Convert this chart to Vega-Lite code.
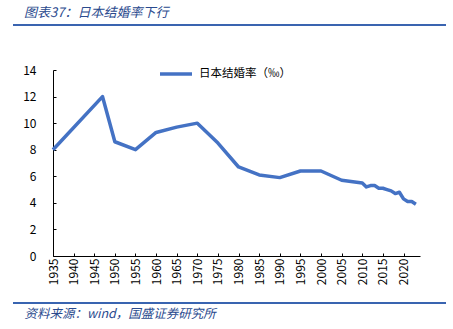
{
  "$schema": "https://vega.github.io/schema/vega-lite/v6.json",
  "autosize": {"type": "none"},
  "padding": {"left": 53, "top": 70, "right": 33, "bottom": 73},
  "width": 367,
  "height": 186,
  "background": "white",
  "config": {
    "font": "Noto Sans CJK SC",
    "view": {"stroke": null},
    "axis": {"labelOverlap": false, "labelFlush": false, "grid": false}
  },
  "title": {
    "text": "图表37：日本结婚率下行",
    "anchor": "start",
    "frame": "group",
    "dx": -29,
    "offset": 4,
    "font": "Noto Sans CJK SC",
    "fontSize": 13,
    "fontStyle": "italic",
    "fontWeight": "normal",
    "color": "#2A4A8E"
  },
  "data": {
    "values": [
      {"year": 1935, "rate": 8.0},
      {"year": 1947, "rate": 12.0},
      {"year": 1950, "rate": 8.6},
      {"year": 1955, "rate": 8.0},
      {"year": 1960, "rate": 9.3},
      {"year": 1965, "rate": 9.7},
      {"year": 1970, "rate": 10.0},
      {"year": 1975, "rate": 8.5},
      {"year": 1980, "rate": 6.7},
      {"year": 1985, "rate": 6.1},
      {"year": 1990, "rate": 5.9},
      {"year": 1995, "rate": 6.4},
      {"year": 2000, "rate": 6.4},
      {"year": 2005, "rate": 5.7},
      {"year": 2010, "rate": 5.5},
      {"year": 2011, "rate": 5.2},
      {"year": 2012, "rate": 5.3},
      {"year": 2013, "rate": 5.3},
      {"year": 2014, "rate": 5.1},
      {"year": 2015, "rate": 5.1},
      {"year": 2016, "rate": 5.0},
      {"year": 2017, "rate": 4.9},
      {"year": 2018, "rate": 4.7},
      {"year": 2019, "rate": 4.8},
      {"year": 2020, "rate": 4.3},
      {"year": 2021, "rate": 4.1},
      {"year": 2022, "rate": 4.1},
      {"year": 2023, "rate": 3.9}
    ]
  },
  "layer": [
    {
      "mark": {"type": "line", "strokeWidth": 3.5, "strokeJoin": "round"},
      "encoding": {
        "x": {
          "field": "year",
          "type": "quantitative",
          "scale": {"domain": [1935, 2024], "nice": false, "zero": false},
          "axis": {
            "title": "资料来源：wind，国盛证券研究所",
            "titleFont": "Noto Sans CJK SC",
            "titleFontSize": 12.5,
            "titleFontStyle": "italic",
            "titleFontWeight": "normal",
            "titleColor": "#2A4A8E",
            "titleAnchor": "start",
            "titleAlign": "left",
            "titleBaseline": "middle",
            "titleX": -29,
            "titleY": 57,
            "values": [1935, 1940, 1945, 1950, 1955, 1960, 1965, 1970, 1975, 1980, 1985, 1990, 1995, 2000, 2005, 2010, 2015, 2020],
            "format": "d",
            "labelAngle": 270,
            "labelFontSize": 12,
            "labelColor": "#000000",
            "labelPadding": 5,
            "labelFlush": false,
            "labelOverlap": false,
            "tickSize": -3,
            "tickColor": "#000000",
            "domainColor": "#000000",
            "grid": false
          }
        },
        "y": {
          "field": "rate",
          "type": "quantitative",
          "scale": {"domain": [0, 14], "nice": false},
          "axis": {
            "title": null,
            "values": [0, 2, 4, 6, 8, 10, 12, 14],
            "labelFontSize": 12,
            "labelColor": "#000000",
            "labelPadding": 20,
            "labelFlush": false,
            "labelOverlap": false,
            "tickSize": -3,
            "tickColor": "#000000",
            "domainColor": "#000000",
            "grid": false
          }
        },
        "color": {
          "datum": "日本结婚率（‰）",
          "type": "nominal",
          "scale": {"range": ["#4472C4"]},
          "legend": {
            "title": null,
            "orient": "none",
            "legendX": 105,
            "legendY": -14,
            "symbolType": "stroke",
            "symbolSize": 1024,
            "symbolStrokeWidth": 3.5,
            "labelFontSize": 11.5,
            "labelColor": "#000000",
            "labelOffset": 5
          }
        }
      }
    },
    {
      "mark": {"type": "rule", "color": "#3A64B0", "strokeWidth": 2},
      "encoding": {
        "x": {
          "datum": 1925.3,
          "type": "quantitative",
          "axis": {
            "title": "资料来源：wind，国盛证券研究所",
            "titleFont": "Noto Sans CJK SC",
            "titleFontSize": 12.5,
            "titleFontStyle": "italic",
            "titleFontWeight": "normal",
            "titleColor": "#2A4A8E",
            "titleAnchor": "start",
            "titleAlign": "left",
            "titleBaseline": "middle",
            "titleX": -29,
            "titleY": 57,
            "values": [1935, 1940, 1945, 1950, 1955, 1960, 1965, 1970, 1975, 1980, 1985, 1990, 1995, 2000, 2005, 2010, 2015, 2020],
            "format": "d",
            "labelAngle": 270,
            "labelFontSize": 12,
            "labelColor": "#000000",
            "labelPadding": 5,
            "labelFlush": false,
            "labelOverlap": false,
            "tickSize": -3,
            "tickColor": "#000000",
            "domainColor": "#000000",
            "grid": false
          }
        },
        "x2": {"datum": 2030.1},
        "y": {
          "datum": 17.39,
          "type": "quantitative",
          "axis": {
            "title": null,
            "values": [0, 2, 4, 6, 8, 10, 12, 14],
            "labelFontSize": 12,
            "labelColor": "#000000",
            "labelPadding": 20,
            "labelFlush": false,
            "labelOverlap": false,
            "tickSize": -3,
            "tickColor": "#000000",
            "domainColor": "#000000",
            "grid": false
          }
        }
      }
    },
    {
      "mark": {"type": "rule", "color": "#3A64B0", "strokeWidth": 1.5},
      "encoding": {
        "x": {
          "datum": 1925.3,
          "type": "quantitative",
          "axis": {
            "title": "资料来源：wind，国盛证券研究所",
            "titleFont": "Noto Sans CJK SC",
            "titleFontSize": 12.5,
            "titleFontStyle": "italic",
            "titleFontWeight": "normal",
            "titleColor": "#2A4A8E",
            "titleAnchor": "start",
            "titleAlign": "left",
            "titleBaseline": "middle",
            "titleX": -29,
            "titleY": 57,
            "values": [1935, 1940, 1945, 1950, 1955, 1960, 1965, 1970, 1975, 1980, 1985, 1990, 1995, 2000, 2005, 2010, 2015, 2020],
            "format": "d",
            "labelAngle": 270,
            "labelFontSize": 12,
            "labelColor": "#000000",
            "labelPadding": 5,
            "labelFlush": false,
            "labelOverlap": false,
            "tickSize": -3,
            "tickColor": "#000000",
            "domainColor": "#000000",
            "grid": false
          }
        },
        "x2": {"datum": 2030.1},
        "y": {
          "datum": -3.54,
          "type": "quantitative",
          "axis": {
            "title": null,
            "values": [0, 2, 4, 6, 8, 10, 12, 14],
            "labelFontSize": 12,
            "labelColor": "#000000",
            "labelPadding": 20,
            "labelFlush": false,
            "labelOverlap": false,
            "tickSize": -3,
            "tickColor": "#000000",
            "domainColor": "#000000",
            "grid": false
          }
        }
      }
    }
  ]
}
